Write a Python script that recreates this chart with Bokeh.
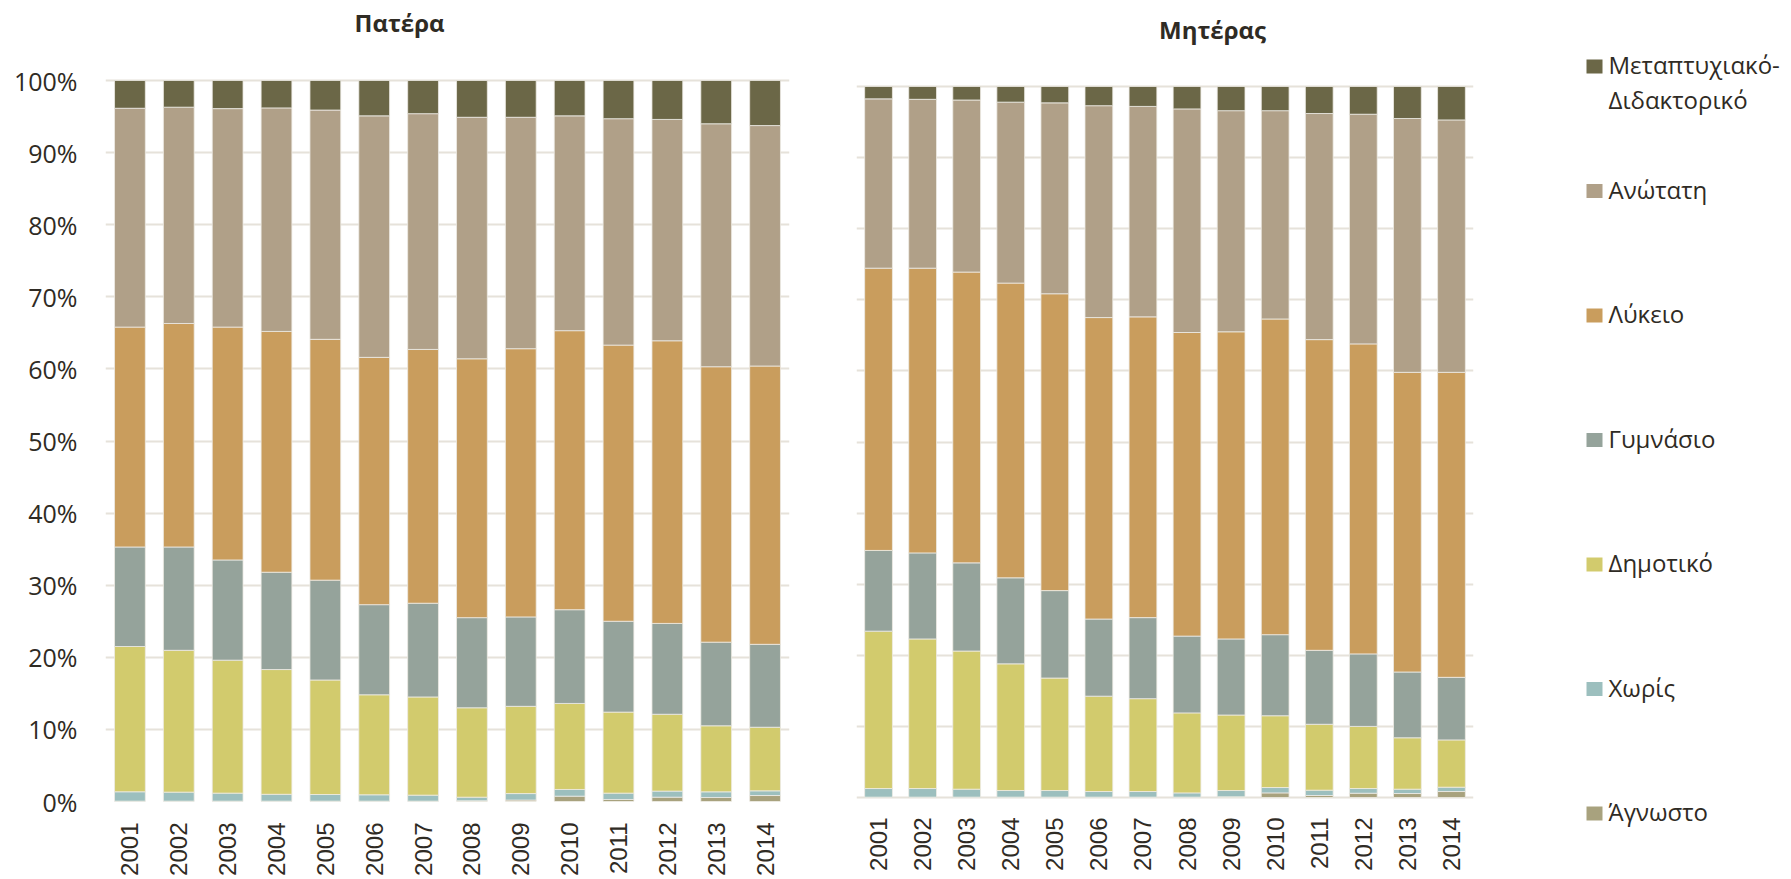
import math
from jinja2 import Template
from bokeh.plotting import figure
from bokeh.models import (ColumnDataSource, FactorRange, Range1d, FixedTicker,
                          PrintfTickFormatter, Label, Grid)
from bokeh.core.properties import value
from bokeh.embed import file_html
from bokeh.resources import INLINE

years = ["2001", "2002", "2003", "2004", "2005", "2006", "2007",
         "2008", "2009", "2010", "2011", "2012", "2013", "2014"]

categories = ["Άγνωστο", "Χωρίς", "Δημοτικό", "Γυμνάσιο", "Λύκειο",
              "Ανώτατη", "Μεταπτυχιακό-Διδακτορικό"]
colors = ["#A8A27E", "#9CBFBE", "#D2CB6D", "#95A39B", "#C99D5D",
          "#B0A088", "#6B6747"]

# Πατέρα (%)
father_agnosto = [0.05, 0.05, 0.05, 0.05, 0.05, 0.05, 0.05, 0.1, 0.2, 0.74, 0.28, 0.6, 0.56, 0.83]
father_xoris = [1.3, 1.25, 1.11, 0.95, 0.92, 0.88, 0.83, 0.5, 0.9, 0.93, 0.88, 0.84, 0.78, 0.65]
father_dimotiko = [20.15, 19.67, 18.44, 17.3, 15.88, 13.87, 13.62, 12.4, 12.1, 11.93, 11.24, 10.66, 9.16, 8.82]
father_gymnasio = [13.8, 14.33, 13.9, 13.5, 13.85, 12.5, 13.0, 12.5, 12.4, 13.0, 12.6, 12.6, 11.6, 11.5]
father_lykeio = [30.5, 31.0, 32.3, 33.4, 33.4, 34.3, 35.2, 35.9, 37.2, 38.7, 38.3, 39.2, 38.2, 38.6]
father_anotati = [30.35, 30.0, 30.3, 31.0, 31.8, 33.5, 32.7, 33.5, 32.1, 29.8, 31.4, 30.7, 33.7, 33.35]
father_metapt = [3.85, 3.7, 3.9, 3.8, 4.1, 4.9, 4.6, 5.1, 5.1, 4.9, 5.3, 5.4, 6.0, 6.25]

# Μητέρας (%)
mother_agnosto = [0.05, 0.05, 0.05, 0.05, 0.05, 0.05, 0.05, 0.05, 0.1, 0.65, 0.28, 0.6, 0.56, 0.84]
mother_xoris = [1.21, 1.21, 1.12, 0.93, 0.93, 0.79, 0.79, 0.6, 0.88, 0.75, 0.75, 0.66, 0.61, 0.61]
mother_dimotiko = [22.14, 21.04, 19.43, 17.82, 15.82, 13.41, 13.06, 11.25, 10.62, 10.1, 9.27, 8.74, 7.23, 6.65]
mother_gymnasio = [11.35, 12.1, 12.4, 12.1, 12.3, 10.85, 11.4, 10.8, 10.7, 11.4, 10.4, 10.2, 9.25, 8.8]
mother_lykeio = [39.7, 40.05, 40.9, 41.45, 41.75, 42.4, 42.3, 42.7, 43.2, 44.4, 43.7, 43.6, 42.15, 42.9]
mother_anotati = [23.81, 23.75, 24.2, 25.45, 26.85, 29.8, 29.6, 31.45, 31.1, 29.3, 31.8, 32.3, 35.7, 35.5]
mother_metapt = [1.74, 1.8, 1.9, 2.2, 2.3, 2.7, 2.8, 3.15, 3.4, 3.4, 3.8, 3.9, 4.5, 4.7]

y_ticks = list(range(0, 101, 10))
titles = ["Πατέρα", "Μητέρας"]

TEXT = "#2F2B24"
GRID = "#E6E2DA"
EDGE = "#EEEBE4"
F_TICK = "'Open Sans'"
F_YEAR = "Arial"

# page layout (pixels, page origin at 0,0)
H = 878
FRAME_TOP = 0
FRAME_BOTTOM = 801
BOTTOM_BORDER = H - FRAME_BOTTOM


def make_source(series):
    data = {"year": years}
    for name, vals in zip(categories, series):
        data[name] = vals
    return ColumnDataSource(data)


father_src = make_source([father_agnosto, father_xoris, father_dimotiko, father_gymnasio,
                          father_lykeio, father_anotati, father_metapt])
mother_src = make_source([mother_agnosto, mother_xoris, mother_dimotiko, mother_gymnasio,
                          mother_lykeio, mother_anotati, mother_metapt])


def make_chart(src, title, width, border_left, border_right, page_y100, page_y0,
               title_cx, title_y, label_standoff, show_y):
    px = (page_y0 - page_y100) / 100.0
    yr = Range1d(-(FRAME_BOTTOM - page_y0) / px, 100 + (page_y100 - FRAME_TOP) / px)
    p = figure(x_range=FactorRange(factors=years, range_padding=0), y_range=yr,
               width=width, height=H, min_border_left=border_left,
               min_border_right=border_right, min_border_top=0,
               min_border_bottom=BOTTOM_BORDER,
               y_axis_location="left" if show_y else None,
               output_backend="svg", toolbar_location=None)
    p.outline_line_color = None
    p.border_fill_color = None
    p.background_fill_color = None
    p.grid.visible = False
    p.xaxis.axis_line_color = None
    p.xaxis.major_tick_line_color = None
    p.xaxis.major_tick_out = 0
    p.xaxis.major_tick_in = 0
    p.xaxis.minor_tick_line_color = None
    p.xaxis.major_label_orientation = math.pi / 2
    p.xaxis.major_label_standoff = label_standoff
    p.xaxis.major_label_text_font = F_YEAR
    p.xaxis.major_label_text_font_size = "24px"
    p.xaxis.major_label_text_color = TEXT
    p.add_layout(Grid(dimension=1, ticker=FixedTicker(ticks=y_ticks),
                      grid_line_color=GRID, grid_line_width=2))
    if show_y:
        p.yaxis.ticker = FixedTicker(ticks=y_ticks)
        p.yaxis.formatter = PrintfTickFormatter(format="%d%%")
        p.yaxis.axis_line_color = None
        p.yaxis.major_tick_line_color = None
        p.yaxis.major_tick_out = 0
        p.yaxis.major_tick_in = 0
        p.yaxis.minor_tick_line_color = None
        p.yaxis.major_label_standoff = 28
        p.yaxis.major_label_text_font = F_TICK
        p.yaxis.major_label_text_font_size = "25px"
        p.yaxis.major_label_text_color = TEXT
    p.vbar_stack(categories, x="year", width=0.63, source=src,
                 fill_color=colors, line_color=EDGE, line_width=0.8)
    p.add_layout(Label(x=title_cx, x_units="screen",
                       y=100 + (page_y100 - title_y) / px, y_units="data",
                       text=title, text_font=F_TICK, text_font_style="bold",
                       text_font_size="24px", text_color=TEXT,
                       text_align="center", text_baseline="alphabetic"))
    return p


# frame left edges: father 105, mother 856
p1 = make_chart(father_src, titles[0], 799, 105, 10, 80, 801, 399 - 105, 22.3, 21, True)
p2 = make_chart(mother_src, titles[1], 681, 57, 7, 86, 797, 1212 - 856, 29.2, 16, False)

# ---- Legend (page coordinates) ----
LW = 300
LX0 = 799 + 681
p3 = figure(x_range=Range1d(LX0, LX0 + LW), y_range=Range1d(H, 0),
            width=LW, height=H, min_border=0,
            x_axis_location=None, y_axis_location=None,
            output_backend="svg", toolbar_location=None)
p3.outline_line_color = None
p3.grid.visible = False
p3.border_fill_color = None
p3.background_fill_color = None

leg_names = list(reversed(categories))
leg_colors = list(reversed(colors))
first_y, step = 66, 124.5
leg_y = [first_y + step * i for i in range(len(leg_names))]
p3.rect(x=[1594] * len(leg_names), y=leg_y, width=16, height=14,
        width_units="screen", height_units="screen",
        fill_color=leg_colors, line_color=None)

txt_x, txt_y, txt = [], [], []
for name, yy in zip(leg_names, leg_y):
    parts = name.split("-")
    lines = [parts[0] + "-", parts[1]] if len(parts) > 1 else [name]
    for k, line in enumerate(lines):
        txt_x.append(1608)
        txt_y.append(yy - 2 + 35 * k)
        txt.append(line)
p3.text(x=txt_x, y=txt_y, text=txt, text_font=value(F_TICK),
        text_font_size="24px", text_color=TEXT, text_baseline="middle",
        text_align="left")

STYLE = ("<style>body { display: flex; flex-direction: row; align-items: flex-start; "
         "overflow: hidden; margin: 0; }</style>")
page_template = Template("{% extends base %}"
                         "{% block preamble %}" + STYLE + "{% endblock %}"
                         "{% block postamble %}" + STYLE + "{% endblock %}")

open("out.html", "w").write(file_html([p1, p2, p3], INLINE, template=page_template))
